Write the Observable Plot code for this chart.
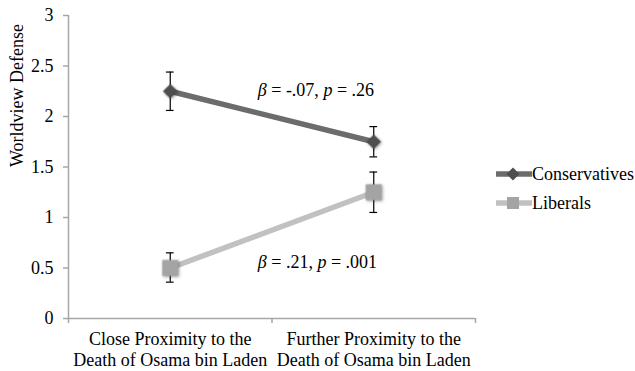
<!DOCTYPE html>
<html><head><meta charset="utf-8">
<script src="https://cdn.jsdelivr.net/npm/d3@7"></script>
<script src="https://cdn.jsdelivr.net/npm/@observablehq/plot@0.6"></script>
<style>
body{margin:0;background:#fff;}
#chart{position:relative;width:635px;height:371px;font-family:'Liberation Serif',serif;color:#000;}
#chart svg text{font-family:'Liberation Serif',serif;}
.legend{position:absolute;left:496px;font-size:18px;line-height:20px;display:flex;align-items:center;font-family:'Liberation Serif',serif;}
.legend svg{display:block;}
</style></head><body><div id="chart"></div>
<script>
// ---- data ----
const categories = ["Close Proximity to the\nDeath of Osama bin Laden", "Further Proximity to the\nDeath of Osama bin Laden"];
const groups = ["Conservatives", "Liberals"];
const conservatives = [2.25, 1.75];
const conservativesLow = [2.06, 1.60];
const conservativesHigh = [2.44, 1.90];
const liberals = [0.50, 1.25];
const liberalsLow = [0.36, 1.05];
const liberalsHigh = [0.65, 1.45];
const yTicks = [0, 0.5, 1, 1.5, 2, 2.5, 3];
const annotationBeta = ["-.07", ".21"];
const annotationP = [".26", ".001"];
const yLabel = "Worldview Defense";

// ---- styles ----
const FONT = "Liberation Serif";
const style = {
  Conservatives: {line: "#6c6c6c", marker: "#4e4e4e", symbol: "diamond2", r: 6.6},
  Liberals: {line: "#c1c1c1", marker: "#a4a4a4", symbol: "square", r: 9}
};
const axisColor = "#a6a6a6";

const series = {
  Conservatives: categories.map((c, i) => ({group: "Conservatives", xi: i + 0.5, value: conservatives[i], low: conservativesLow[i], high: conservativesHigh[i]})),
  Liberals: categories.map((c, i) => ({group: "Liberals", xi: i + 0.5, value: liberals[i], low: liberalsLow[i], high: liberalsHigh[i]}))
};
const rows = [...series.Conservatives, ...series.Liberals];
const caps = rows.flatMap(d => [{xi: d.xi, v: d.low}, {xi: d.xi, v: d.high}]);
const annotations = [
  {x: 0.93, y: 2.26, beta: annotationBeta[0], p: annotationP[0]},
  {x: 0.93, y: 0.56, beta: annotationBeta[1], p: annotationP[1]}
];

const marks = [
  Plot.ruleX([0], {stroke: axisColor, strokeWidth: 1.5}),
  Plot.ruleY([0], {stroke: axisColor, strokeWidth: 1.5}),
  Plot.axisY({ticks: yTicks, tickSize: 5, tickPadding: 10, tickFormat: d => String(d), fontSize: 18, fontFamily: FONT, stroke: axisColor, strokeWidth: 1.5, fill: "#000", label: null}),
  Plot.axisX({ticks: [0, 1, 2], tickSize: 5, tickFormat: () => "", stroke: axisColor, strokeWidth: 1.5, label: null}),
  Plot.axisX({ticks: [0.5, 1.5], tickSize: 0, tickPadding: 12, tickFormat: d => categories[Math.floor(d)], fontSize: 18, fontFamily: FONT, lineHeight: 1.15, fill: "#000", label: null}),
  Plot.text([yLabel], {frameAnchor: "left", dx: -51, rotate: -90, fontSize: 18, fontFamily: FONT, fill: "#000"})
];
for (const g of groups) {
  marks.push(Plot.line(series[g], {x: "xi", y: "value", stroke: style[g].line, strokeWidth: 5.5}));
}
marks.push(Plot.ruleX(rows, {x: "xi", y1: "low", y2: "high", stroke: "#000", strokeWidth: 1.2}));
marks.push(Plot.ruleY(caps, {y: "v", x1: d => d.xi - 0.019, x2: d => d.xi + 0.019, stroke: "#000", strokeWidth: 1.2}));
for (const g of groups) {
  marks.push(Plot.dot(series[g], {x: "xi", y: "value", symbol: style[g].symbol, r: style[g].r, fill: style[g].marker, stroke: "none"}));
}
marks.push(Plot.text(annotations, {x: "x", y: "y", text: d => `β = ${d.beta}, p = ${d.p}`, textAnchor: "start", fontSize: 18, fontFamily: FONT, fill: "#000"}));

const chart = Plot.plot({
  width: 635,
  height: 371,
  marginLeft: 68,
  marginRight: 160,
  marginTop: 15,
  marginBottom: 53,
  x: {domain: [0, 2]},
  y: {domain: [0, 3]},
  style: {fontFamily: FONT, background: "#fff"},
  marks
});
const host = document.getElementById("chart");
host.appendChild(chart);

// italic β and p in annotations
d3.select(chart).selectAll("text").each(function() {
  const t = this.textContent;
  if (t.startsWith("β")) {
    const m = t.match(/^β = (.*), p = (.*)$/);
    if (!m) return;
    const sel = d3.select(this);
    sel.text(null);
    sel.append("tspan").attr("font-style", "italic").text("β");
    sel.append("tspan").text(` = ${m[1]}, `);
    sel.append("tspan").attr("font-style", "italic").text("p");
    sel.append("tspan").text(` = ${m[2]}`);
  }
});
// soft shadow on markers
d3.select(chart).selectAll("g[aria-label='dot']").style("filter", "drop-shadow(1px 1px 1.5px rgba(0,0,0,0.35))");

// legend
groups.forEach((g, i) => {
  const s = style[g];
  const sym = s.symbol === "diamond2"
    ? `<path d="M17 3.5 L23.5 10 L17 16.5 L10.5 10 Z" fill="${s.marker}"/>`
    : `<rect x="11" y="4" width="12" height="12" fill="${s.marker}"/>`;
  const div = document.createElement("div");
  div.className = "legend";
  div.style.top = (164 + i * 29) + "px";
  div.innerHTML = `<svg width="36" height="20"><line x1="1" x2="35" y1="10" y2="10" stroke="${s.line}" stroke-width="5.5" stroke-linecap="round"/>${sym}</svg><span>${g}</span>`;
  host.appendChild(div);
});
</script></body></html>
